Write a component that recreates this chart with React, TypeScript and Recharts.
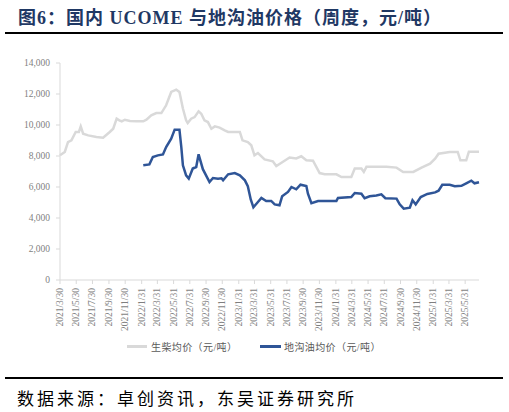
import { LineChart, Line, XAxis, YAxis } from "recharts";

// x-axis labels, one every two months
const tickLabels = [
  "2021/3/30", "2021/5/30", "2021/7/30", "2021/9/30", "2021/11/30",
  "2022/1/31", "2022/3/31", "2022/5/31", "2022/7/31", "2022/9/30", "2022/11/30",
  "2023/1/31", "2023/3/31", "2023/5/31", "2023/7/31", "2023/9/30", "2023/11/30",
  "2024/1/31", "2024/3/31", "2024/5/31", "2024/7/31", "2024/9/30", "2024/11/30",
  "2025/1/31", "2025/3/31", "2025/5/31",
];
const yTicks = [0, 2000, 4000, 6000, 8000, 10000, 12000, 14000];
const axisStart = "2021/3/30";
const axisEnd = "2025/7/22";

// 生柴均价 (UCOME)
const dieselDates = [
  "2021/3/30", "2021/4/17", "2021/4/29", "2021/5/12", "2021/5/28", "2021/6/9", "2021/6/16",
  "2021/6/25", "2021/7/14", "2021/8/14", "2021/9/8", "2021/10/3", "2021/10/16", "2021/10/29",
  "2021/11/8", "2021/11/17", "2021/11/29", "2021/12/18", "2022/1/12", "2022/2/6", "2022/2/18",
  "2022/3/8", "2022/3/27", "2022/4/15", "2022/5/3", "2022/5/22", "2022/6/10", "2022/6/22",
  "2022/7/5", "2022/7/17", "2022/7/23", "2022/8/5", "2022/8/18", "2022/9/2", "2022/9/12",
  "2022/9/24", "2022/10/7", "2022/10/20", "2022/11/2", "2022/11/20", "2022/12/9", "2022/12/22",
  "2023/2/4", "2023/2/14", "2023/3/6", "2023/3/19", "2023/3/31", "2023/4/13", "2023/5/8",
  "2023/6/8", "2023/6/21", "2023/7/9", "2023/8/10", "2023/9/4", "2023/9/23", "2023/10/12",
  "2023/11/6", "2023/12/1", "2023/12/20", "2024/2/2", "2024/2/21", "2024/3/29", "2024/4/11",
  "2024/5/6", "2024/5/15", "2024/5/25", "2024/8/8", "2024/9/15", "2024/10/10", "2024/11/17",
  "2024/12/18", "2025/1/19", "2025/2/7", "2025/2/20", "2025/4/3", "2025/5/3", "2025/5/13",
  "2025/6/4", "2025/6/14", "2025/7/22",
];
const dieselPrices = [
  8050, 8260, 8900, 9010, 9550, 9550, 9910,
  9440, 9330, 9220, 9180, 9550, 9760, 10410,
  10300, 10240, 10340, 10260, 10240, 10240, 10340,
  10620, 10770, 10770, 11270, 12130, 12280, 12130,
  11060, 10300, 10130, 10410, 10510, 10880, 10730,
  10300, 10190, 9760, 9910, 9830, 9660, 9550,
  9550, 9010, 8900, 8690, 8040, 8190, 7780,
  7660, 7350, 7550, 7900, 7840, 7980, 7720,
  7700, 6900, 6820, 6820, 6640, 6640, 7190,
  7190, 6970, 7300, 7300, 7250, 6970, 6970,
  7250, 7510, 7830, 8150, 8260, 8260, 7720,
  7720, 8280, 8280,
];

// 地沟油均价
const oilDates = [
  "2022/2/6", "2022/3/1", "2022/3/14", "2022/4/2", "2022/4/21", "2022/5/3", "2022/5/22",
  "2022/6/4", "2022/6/22", "2022/6/29", "2022/7/5", "2022/7/17", "2022/7/27", "2022/8/11",
  "2022/8/24", "2022/9/2", "2022/9/18", "2022/10/13", "2022/10/26", "2022/11/14", "2022/11/27",
  "2022/12/3", "2022/12/22", "2023/1/16", "2023/2/4", "2023/2/23", "2023/3/6", "2023/3/17",
  "2023/3/27", "2023/4/13", "2023/4/26", "2023/5/14", "2023/6/2", "2023/6/15", "2023/7/3",
  "2023/7/13", "2023/8/4", "2023/8/17", "2023/9/4", "2023/9/20", "2023/10/12", "2023/10/18",
  "2023/10/31", "2023/11/25", "2024/2/2", "2024/2/8", "2024/3/29", "2024/4/11", "2024/5/6",
  "2024/5/18", "2024/6/6", "2024/7/1", "2024/7/20", "2024/8/4", "2024/9/15", "2024/9/27",
  "2024/10/12", "2024/11/4", "2024/11/14", "2024/11/26", "2024/12/15", "2025/1/9", "2025/2/7",
  "2025/2/20", "2025/3/6", "2025/4/3", "2025/4/22", "2025/5/17", "2025/6/4", "2025/6/23",
  "2025/7/5", "2025/7/22",
];
const oilPrices = [
  7400, 7460, 7930, 8040, 8100, 8580, 9120,
  9700, 9700, 8580, 7400, 6750, 6540, 7190,
  7290, 8110, 7150, 6320, 6580, 6540, 6560,
  6430, 6820, 6900, 6750, 6430, 6050, 5200,
  4690, 5030, 5300, 5100, 5100, 4880, 4820,
  5400, 5680, 6000, 5850, 6150, 6060, 5570,
  4950, 5100, 5100, 5290, 5350, 5610, 5570,
  5280, 5400, 5450, 5530, 5280, 5250, 4880,
  4600, 4670, 5140, 4880, 5350, 5550, 5650,
  5760, 6140, 6140, 6050, 6080, 6240, 6410,
  6240, 6310,
];

const toDay = (s: string) => {
  const [y, m, d] = s.split("/").map(Number);
  return (Date.UTC(y, m - 1, d) - Date.UTC(2021, 2, 30)) / 864e5;
};

const dieselData = dieselDates.map((d, i) => ({ t: toDay(d), v: dieselPrices[i] }));
const oilData = oilDates.map((d, i) => ({ t: toDay(d), v: oilPrices[i] }));
const tickValues = tickLabels.map(toDay);

const serif = '"Liberation Serif", "Times New Roman", "Noto Sans CJK SC", serif';
const grey = "#d9d9d9";
const blue = "#2f5597";

function DateTick({ x, y, index }: any) {
  return (
    <text
      transform={`translate(${x},${y + 2}) rotate(-90)`}
      textAnchor="end"
      dominantBaseline="central"
      fontSize={9.5}
      fontFamily={serif}
      fill="#7f7f7f"
    >
      {tickLabels[index]}
    </text>
  );
}

export default function App() {
  return (
    <div style={{ position: "absolute", left: 0, top: 0, width: 509, height: 412, background: "#fff" }}>
      <div
        style={{
          position: "absolute", left: 18, top: 3, fontSize: 18, fontWeight: "bold",
          fontFamily: serif, color: "#1f3864", letterSpacing: 1, whiteSpace: "nowrap",
        }}
      >
        图6：国内 UCOME 与地沟油价格（周度，元/吨）
      </div>
      <div style={{ position: "absolute", left: 5, top: 32, width: 498, height: 2, background: "#000" }} />

      <LineChart width={509} height={412} margin={{ top: 63, right: 30, left: 0, bottom: 82 }}>
        <XAxis
          type="number"
          dataKey="t"
          domain={[toDay(axisStart), toDay(axisEnd)]}
          ticks={tickValues}
          interval={0}
          height={50}
          tick={<DateTick />}
          tickSize={4}
          axisLine={{ stroke: grey }}
          tickLine={{ stroke: grey }}
        />
        <YAxis
          type="number"
          domain={[0, 14000]}
          ticks={yTicks}
          width={60}
          tickSize={4}
          tickMargin={6}
          tickFormatter={(v: number) => v.toLocaleString("en-US")}
          tick={{ fontSize: 9.5, fontFamily: serif, fill: "#7f7f7f" }}
          axisLine={{ stroke: grey }}
          tickLine={{ stroke: grey }}
        />
        <Line data={dieselData} dataKey="v" type="linear" stroke={grey} strokeWidth={2.5} dot={false} isAnimationActive={false} />
        <Line data={oilData} dataKey="v" type="linear" stroke={blue} strokeWidth={2.5} dot={false} isAnimationActive={false} />
      </LineChart>

      <div style={{ position: "absolute", left: 127, top: 345, width: 20, height: 3, background: grey }} />
      <div style={{ position: "absolute", left: 151, top: 339, fontSize: 10, fontFamily: serif, color: "#595959", letterSpacing: 0.4, whiteSpace: "nowrap" }}>
        生柴均价（元/吨）
      </div>
      <div style={{ position: "absolute", left: 260, top: 345, width: 21, height: 3, background: blue }} />
      <div style={{ position: "absolute", left: 284, top: 339, fontSize: 10, fontFamily: serif, color: "#595959", letterSpacing: 0.4, whiteSpace: "nowrap" }}>
        地沟油均价（元/吨）
      </div>

      <div style={{ position: "absolute", left: 5, top: 377, width: 498, height: 2, background: "#000" }} />
      <div style={{ position: "absolute", left: 17, top: 385, fontSize: 17, fontFamily: serif, color: "#000", letterSpacing: 3, whiteSpace: "nowrap" }}>
        数据来源：卓创资讯，东吴证券研究所
      </div>
    </div>
  );
}
